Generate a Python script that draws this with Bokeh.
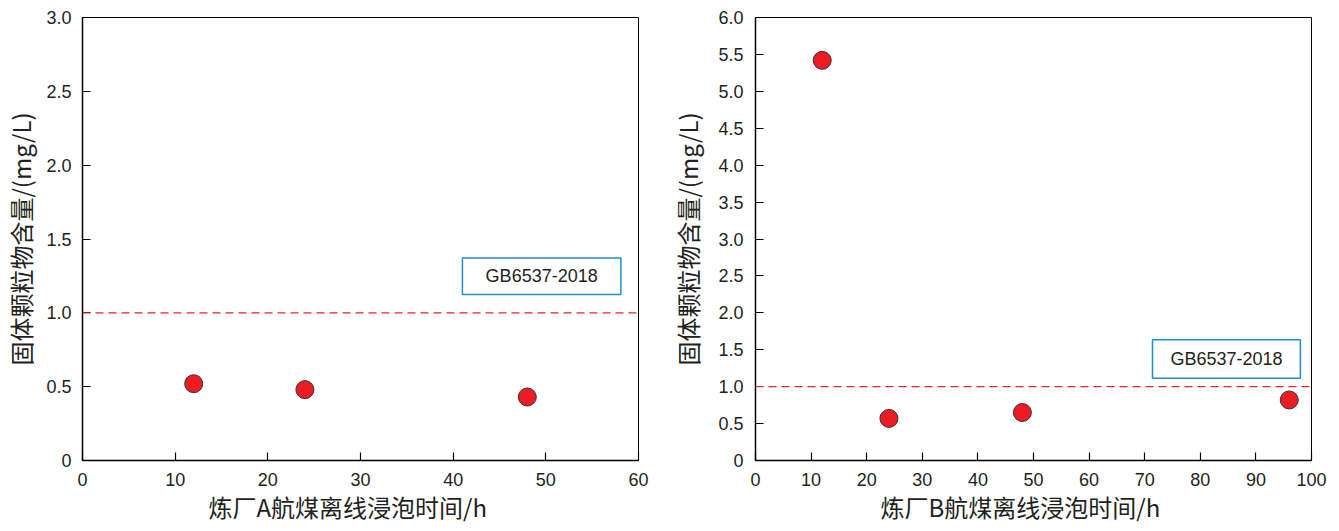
from bokeh.plotting import figure
from bokeh.layouts import row
from bokeh.models import (Range1d, FixedTicker, Span, BoxAnnotation, Label, Title,
                          PrintfTickFormatter)
from bokeh.embed import file_html
from bokeh.resources import INLINE

# ---- data ----
a_hours = [12, 24, 48]
a_values = [0.52, 0.48, 0.43]
b_hours = [12, 24, 48, 96]
b_values = [5.42, 0.57, 0.65, 0.82]
standard_limit = 1.0
standard_name = "GB6537-2018"
y_label = "固体颗粒物含量/(mg/L)"
a_xlabel = "炼厂A航煤离线浸泡时间/h"
b_xlabel = "炼厂B航煤离线浸泡时间/h"
a_xticks = [0, 10, 20, 30, 40, 50, 60]
a_yticks = [0, 0.5, 1.0, 1.5, 2.0, 2.5, 3.0]
b_xticks = [0, 10, 20, 30, 40, 50, 60, 70, 80, 90, 100]
b_yticks = [0, 0.5, 1.0, 1.5, 2.0, 2.5, 3.0, 3.5, 4.0, 4.5, 5.0, 5.5, 6.0]

TXT = "#231f20"
NUM_FONT = "Liberation Sans"
CJK_FONT = "Noto Sans CJK SC"


def make_fig(width, height, bl, br, bt, bb, xmax, ymax, xticks, yticks, ystand, ylstand,
             xlabel, xlabel_offset):
    p = figure(width=width, height=height, output_backend="svg", toolbar_location=None,
               x_range=Range1d(0, xmax), y_range=Range1d(0, ymax),
               min_border_left=bl, min_border_right=br, min_border_top=bt, min_border_bottom=bb)
    p.grid.visible = False
    p.outline_line_color = "black"
    p.outline_line_width = 1
    for ax in (p.xaxis[0], p.yaxis[0]):
        ax.axis_line_color = "black"
        ax.axis_line_width = 1.5
        ax.major_tick_in = 8
        ax.major_tick_out = 0
        ax.major_tick_line_color = "black"
        ax.major_tick_line_width = 1.2
        ax.minor_tick_line_color = None
        ax.major_label_text_font = NUM_FONT
        ax.major_label_text_font_size = "18px"
        ax.major_label_text_color = TXT
        ax.axis_label_text_font = CJK_FONT
        ax.axis_label_text_font_size = "24px"
        ax.axis_label_text_font_style = "normal"
        ax.axis_label_text_color = TXT
    p.xaxis.ticker = FixedTicker(ticks=xticks)
    p.yaxis.ticker = FixedTicker(ticks=yticks)
    p.yaxis.formatter = PrintfTickFormatter(format="%.1f")
    p.yaxis.major_label_overrides = {0: "0"}
    p.xaxis.major_label_standoff = 12
    p.yaxis.major_label_standoff = ystand
    p.yaxis.axis_label = y_label
    p.yaxis.axis_label_standoff = ylstand
    # x-axis title, placed slightly left of the frame centre as in the original
    p.add_layout(Title(text=xlabel, align="left", offset=xlabel_offset, standoff=0,
                       vertical_align="top", text_font=CJK_FONT, text_font_size="24px",
                       text_font_style="normal", text_color=TXT), "below")
    return p


p1 = make_fig(660, 530, 82, 22, 15, 68, 60, 3.0, a_xticks, a_yticks, 11, 5, a_xlabel, 126)
p2 = make_fig(676, 530, 95, 25, 17, 70, 100, 6.0, b_xticks, b_yticks, 12, 10, b_xlabel, 125)

for p, box in ((p1, (41.0, 58.1, 1.125, 1.372)), (p2, (71.4, 98.0, 1.115, 1.635))):
    p.add_layout(Span(location=standard_limit, dimension="width", line_color="#e8262d",
                      line_width=1.2, line_dash="8 5"))
    p.add_layout(BoxAnnotation(left=box[0], right=box[1], bottom=box[2], top=box[3],
                               fill_color="white", fill_alpha=1, line_color="#1f8fd4",
                               line_alpha=1, line_width=1.5))
    p.add_layout(Label(x=(box[0] + box[1]) / 2, y=(box[2] + box[3]) / 2, text=standard_name,
                       text_font=NUM_FONT, text_font_size="18px", text_color=TXT,
                       text_align="center", text_baseline="middle"))

p1.scatter(a_hours, a_values, size=18, fill_color="#ed1c24", line_color="#333333", line_width=1)
p2.scatter(b_hours, b_values, size=18, fill_color="#ed1c24", line_color="#333333", line_width=1)

layout = row(p1, p2)
open("out.html", "w").write(file_html(layout, INLINE))
